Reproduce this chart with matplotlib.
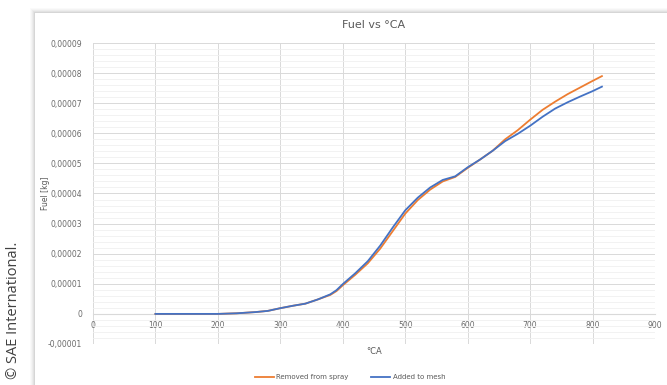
import numpy as np
import matplotlib
matplotlib.use("Agg")
import matplotlib.pyplot as plt
from matplotlib.patches import Rectangle
from matplotlib.ticker import MultipleLocator, FuncFormatter

# Dados (°CA, fuel em 1e-5 kg)
ca = [100, 150, 200, 230, 260, 280, 300, 320, 340, 360, 380, 390, 400, 420,
      440, 460, 480, 500, 520, 540, 560, 580, 600, 620, 640, 660, 680, 700,
      720, 740, 760, 780, 800, 815]
removed_spray = [0, 0, 0, 0.02, 0.06, 0.1, 0.19, 0.27, 0.34, 0.48, 0.63, 0.76,
                 0.95, 1.3, 1.68, 2.17, 2.75, 3.33, 3.78, 4.13, 4.4, 4.55,
                 4.85, 5.13, 5.42, 5.8, 6.1, 6.45, 6.78, 7.05, 7.3, 7.52,
                 7.74, 7.9]
added_mesh = [0, 0, 0, 0.02, 0.06, 0.1, 0.19, 0.27, 0.34, 0.48, 0.65, 0.79,
              0.99, 1.35, 1.75, 2.27, 2.87, 3.44, 3.86, 4.2, 4.45, 4.57,
              4.87, 5.13, 5.42, 5.74, 5.98, 6.25, 6.55, 6.82, 7.03, 7.22,
              7.4, 7.55]

x = np.array(ca)
y_orange = np.array(removed_spray) * 1e-5
y_blue = np.array(added_mesh) * 1e-5

fig = plt.figure(figsize=(6.67, 3.85), dpi=100)
fig.patch.set_facecolor("white")

# "cartão" do Excel com sombra
for i, a in enumerate([0.02, 0.025, 0.03, 0.04, 0.05]):
    d = (5 - i) / 667
    fig.patches.append(Rectangle((35 / 667 - d, 0), 1, 1 - 13 / 385 + d * 667 / 385,
                                 transform=fig.transFigure, facecolor="black",
                                 alpha=a, edgecolor="none", zorder=-2))
fig.patches.append(Rectangle((35 / 667, 0), 1, 1 - 13 / 385, transform=fig.transFigure,
                             facecolor="white", edgecolor="none", zorder=-1))

ax = fig.add_axes([93 / 667, 41 / 385, 562 / 667, 301 / 385])
ax.set_zorder(2)
ax.set_facecolor("none")

ax.plot(x, y_orange, color="#ED7D31", lw=1.3, label="Removed from spray", zorder=3)
ax.plot(x, y_blue, color="#4472C4", lw=1.3, label="Added to mesh", zorder=4)

ax.set_xlim(0, 900)
ax.set_ylim(-0.00001, 0.00009)
ax.xaxis.set_major_locator(MultipleLocator(100))
ax.yaxis.set_major_locator(MultipleLocator(0.00001))
ax.yaxis.set_minor_locator(MultipleLocator(0.000002))

def fmt_y(v, pos):
    if abs(v) < 1e-12:
        return "0"
    return f"{v:.5f}".replace(".", ",")

ax.yaxis.set_major_formatter(FuncFormatter(fmt_y))

ax.grid(which="major", color="#D9D9D9", lw=0.7)
ax.grid(which="minor", axis="y", color="#F0F0F0", lw=0.6)
ax.set_axisbelow(True)

for s in ["top", "right", "left"]:
    ax.spines[s].set_visible(False)
ax.spines["bottom"].set_position(("data", 0))
ax.spines["bottom"].set_color("#D9D9D9")
ax.spines["bottom"].set_linewidth(0.8)

ax.tick_params(which="both", length=0, labelsize=5.5, labelcolor="#6a6a6a")
ax.tick_params(axis="x", pad=5)
ax.tick_params(axis="y", pad=8)

ax.set_title("Fuel vs °CA", fontsize=8, color="#595959", pad=11)
ax.set_ylabel("Fuel [kg]", fontsize=5.5, color="#595959")
ax.yaxis.set_label_coords(-0.076, 0.5)
fig.text(374 / 667, 1 - 352 / 385, "°CA", fontsize=6, color="#595959",
         ha="center", va="center")

fig.legend(loc="center", bbox_to_anchor=(350 / 667, 1 - 377 / 385), ncol=2,
           frameon=False, fontsize=5, handlelength=2.8, handletextpad=0.3,
           columnspacing=3.2, labelcolor="#595959")

fig.text(14 / 667, 1 - 310 / 385, "© SAE International.", rotation=90,
         fontsize=10.5, color="#404040", ha="center", va="center",
         family="Open Sans")

fig.savefig("out.png", dpi=100, facecolor="white")
